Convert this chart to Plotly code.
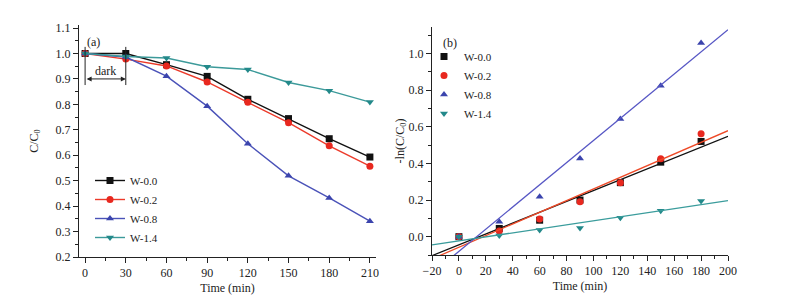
import numpy as np
import plotly.graph_objects as go

# ---- data ----
series_names = ["W-0.0", "W-0.2", "W-0.8", "W-1.4"]
time_a = [0, 30, 60, 90, 120, 150, 180, 210]
cc0_w00 = [1.0, 1.0, 0.956, 0.91, 0.82, 0.744, 0.665, 0.593]
cc0_w02 = [1.0, 0.978, 0.951, 0.888, 0.808, 0.728, 0.637, 0.557]
cc0_w08 = [1.0, 0.986, 0.911, 0.793, 0.645, 0.519, 0.432, 0.341]
cc0_w14 = [1.0, 0.988, 0.982, 0.948, 0.937, 0.886, 0.854, 0.809]

time_b = [0, 30, 60, 90, 120, 150, 180]
ln_w00 = [0.0, 0.045, 0.09, 0.2, 0.295, 0.407, 0.52]
ln_w02 = [0.0, 0.031, 0.096, 0.191, 0.295, 0.425, 0.562]
ln_w08 = [0.0, 0.082, 0.218, 0.427, 0.642, 0.824, 1.058]
ln_w14 = [0.0, 0.007, 0.036, 0.047, 0.104, 0.142, 0.195]

x_ticks_a = [0, 30, 60, 90, 120, 150, 180, 210]
x_ticks_b = [-20, 0, 20, 40, 60, 80, 100, 120, 140, 160, 180, 200]
fit_x = [-20, 200]

marker_colors = ["#111111", "#e8281f", "#3b44ad", "#23898a"]
line_colors_a = ["#111111", "#ec3a2a", "#4a52b8", "#3c9a9a"]
fit_colors = ["#111111", "#ee4a28", "#5656c4", "#3a9c9c"]
symbols = ["square", "circle", "triangle-up", "triangle-down"]

FONT = "Liberation Serif, Times New Roman, serif"
W, H = 786, 291  # page body has an 8px margin inside the 802x307 window

fig = go.Figure()

a_vals = [cc0_w00, cc0_w02, cc0_w08, cc0_w14]
b_vals = [ln_w00, ln_w02, ln_w08, ln_w14]

for i, name in enumerate(series_names):
    fig.add_trace(go.Scatter(
        x=time_a, y=a_vals[i], name=name, mode="lines+markers",
        line=dict(color=line_colors_a[i], width=1.4),
        marker=dict(symbol=symbols[i], size=7, color=marker_colors[i]),
        xaxis="x", yaxis="y", legend="legend", cliponaxis=False))

for i, name in enumerate(series_names):
    fig.add_trace(go.Scatter(
        x=time_b, y=b_vals[i], name=name, mode="markers",
        marker=dict(symbol=symbols[i], size=7, color=marker_colors[i]),
        xaxis="x2", yaxis="y2", legend="legend2"))
    k, b0 = np.polyfit(time_b, b_vals[i], 1)
    fx = np.array(fit_x, dtype=float)
    fig.add_trace(go.Scatter(
        x=fx, y=k * fx + b0, mode="lines", showlegend=False,
        line=dict(color=fit_colors[i], width=1.3),
        xaxis="x2", yaxis="y2", hoverinfo="skip"))

axis_common = dict(
    showgrid=False, zeroline=False, showline=True, linecolor="#222222", linewidth=1,
    ticks="outside", ticklen=5, tickwidth=1, tickcolor="#222222",
    tickfont=dict(family=FONT, size=12, color="#222222"),
    mirror=False, automargin=False,
)

fig.update_layout(
    width=W, height=H,
    margin=dict(l=0, r=0, t=0, b=0, pad=0),
    paper_bgcolor="white", plot_bgcolor="white",
    font=dict(family=FONT, size=12, color="#222222"),
    xaxis=dict(domain=[71/W, 368/W], range=[-4.5, 214.5],
               tickvals=x_ticks_a, anchor="y",
               minor=dict(ticks="outside", ticklen=3, dtick=15, tick0=0, tickcolor="#222222"),
               title=dict(text="Time (min)", font=dict(family=FONT, size=12), standoff=4),
               **axis_common),
    yaxis=dict(domain=[42/H, 274/H], range=[0.2, 1.112], dtick=0.1, tick0=0.2,
               tickformat=".1f", anchor="x",
               minor=dict(ticks="outside", ticklen=3, dtick=0.05, tick0=0.2, tickcolor="#222222"),
               title=dict(text="C/C<sub>0</sub>", font=dict(family=FONT, size=12), standoff=14),
               **axis_common),
    xaxis2=dict(domain=[424/W, 720/W], range=[-20, 200],
                tickvals=x_ticks_b, anchor="y2",
                minor=dict(ticks="outside", ticklen=3, dtick=10, tick0=0, tickcolor="#222222"),
                title=dict(text="Time (min)", font=dict(family=FONT, size=12), standoff=4),
                **axis_common),
    yaxis2=dict(domain=[44/H, 272/H], range=[-0.1, 1.145], dtick=0.2, tick0=0,
                tickformat=".1f", anchor="x2",
                minor=dict(ticks="outside", ticklen=3, dtick=0.1, tick0=0, tickcolor="#222222"),
                title=dict(text="-ln(C/C<sub>0</sub>)", font=dict(family=FONT, size=12), standoff=1),
                **axis_common),
    legend=dict(x=82/W, y=1 - 158/H, xanchor="left", yanchor="top",
                bgcolor="rgba(0,0,0,0)", font=dict(family=FONT, size=11),
                itemwidth=30, tracegroupgap=0),
    legend2=dict(x=416/W, y=1 - 34/H, xanchor="left", yanchor="top",
                 bgcolor="rgba(0,0,0,0)", font=dict(family=FONT, size=11),
                 itemwidth=30, tracegroupgap=0),
    showlegend=True,
)

# dark period markers
for xv in [0, 30]:
    fig.add_shape(type="line", xref="x", yref="y", x0=xv, x1=xv, y0=0.876, y1=1.026,
                  line=dict(color="#222222", width=1))
fig.add_annotation(xref="x", yref="y", axref="x", ayref="y", x=30, y=0.9, ax=0, ay=0.9,
                   text="", showarrow=True, arrowhead=2, arrowside="end+start",
                   arrowsize=1, arrowwidth=1, arrowcolor="#222222", standoff=0, startstandoff=0)
fig.add_annotation(xref="x", yref="y", x=15, y=0.93, text="dark", showarrow=False,
                   font=dict(family=FONT, size=12, color="#222222"))
fig.add_annotation(xref="x", yref="y", x=0, y=1.045, text="(a)", showarrow=False,
                   xanchor="left", font=dict(family=FONT, size=12, color="#222222"))
fig.add_annotation(xref="x2", yref="y2", x=-13, y=1.055, text="(b)", showarrow=False,
                   xanchor="left", font=dict(family=FONT, size=12, color="#222222"))

fig.write_html("out.html")
